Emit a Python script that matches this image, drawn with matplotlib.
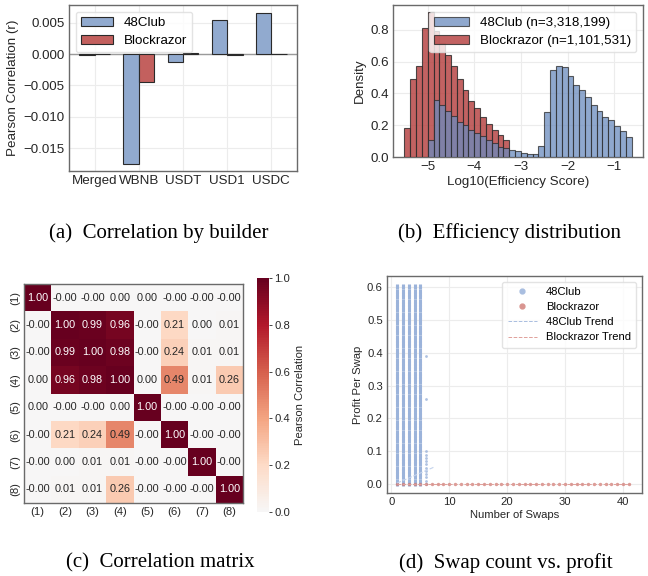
import numpy as np
import matplotlib
matplotlib.use("Agg")
import matplotlib.pyplot as plt
from matplotlib.colors import LinearSegmentedColormap
from matplotlib.lines import Line2D

plt.rcParams['font.family'] = ['Liberation Sans', 'DejaVu Sans']
plt.rcParams['axes.unicode_minus'] = True

# ---------------- data ----------------
# (a) correlation by builder
tokens = ["Merged", "WBNB", "USDT", "USD1", "USDC"]
corr_48club = [-0.0001, -0.0175, -0.0012, 0.0054, 0.0066]
corr_blockrazor = [-0.00003, -0.0045, 0.0001, -0.0001, 0.00002]

# (b) efficiency distribution (density histograms, bin width 0.125)
razor_bin_start = -5.5
razor_density = [0.18, 0.49, 0.57, 0.81, 0.91, 0.79, 0.72, 0.64, 0.57, 0.49,
                 0.42, 0.355, 0.31, 0.25, 0.21, 0.17, 0.14, 0.107]
club_bin_start = -5.0
club_density = [0.107, 0.36, 0.33, 0.29, 0.255, 0.22, 0.20, 0.17, 0.15, 0.13,
                0.107, 0.086, 0.065, 0.055, 0.046, 0.036, 0.027, 0.021, 0.017, 0.07,
                0.28, 0.55, 0.57, 0.565, 0.51, 0.45, 0.42, 0.375, 0.33, 0.29,
                0.254, 0.23, 0.195, 0.164, 0.124]
bin_width = 0.125
club_label = "48Club (n=3,318,199)"
razor_label = "Blockrazor (n=1,101,531)"

# (c) correlation matrix
mat_labels = ["(1)", "(2)", "(3)", "(4)", "(5)", "(6)", "(7)", "(8)"]
corr_matrix = [
    [1.00, -0.001, -0.001, 0.001, 0.001, -0.001, -0.001, -0.001],
    [-0.001, 1.00, 0.99, 0.96, -0.001, 0.21, 0.001, 0.01],
    [-0.001, 0.99, 1.00, 0.98, -0.001, 0.24, 0.01, 0.01],
    [0.001, 0.96, 0.98, 1.00, 0.001, 0.49, 0.01, 0.26],
    [0.001, -0.001, -0.001, 0.001, 1.00, -0.001, -0.001, -0.001],
    [-0.001, 0.21, 0.24, 0.49, -0.001, 1.00, -0.001, -0.001],
    [-0.001, 0.001, 0.01, 0.01, -0.001, -0.001, 1.00, -0.001],
    [-0.001, 0.01, 0.01, 0.26, -0.001, -0.001, -0.001, 1.00],
]

# (d) swap count vs profit
club_swaps_dense = [1, 2, 3, 4, 5]
club_profit_levels = [0.00, 0.01, 0.02, 0.03, 0.04, 0.05, 0.06, 0.07, 0.08, 0.09,
                      0.10, 0.11, 0.12, 0.13, 0.14, 0.15, 0.16, 0.17, 0.18, 0.19,
                      0.20, 0.21, 0.22, 0.23, 0.24, 0.25, 0.26, 0.27, 0.28, 0.29,
                      0.30, 0.31, 0.32, 0.33, 0.34, 0.35, 0.36, 0.37, 0.38, 0.39,
                      0.40, 0.41, 0.42, 0.43, 0.44, 0.45, 0.46, 0.47, 0.48, 0.49,
                      0.50, 0.51, 0.52, 0.53, 0.54, 0.55, 0.56, 0.57, 0.58, 0.59,
                      0.60, 0.605]
club_swaps_sparse = 6
club_profit_sparse = [0.39, 0.26, 0.10, 0.09, 0.08, 0.07, 0.06, 0.05,
                      0.04, 0.03, 0.02, 0.01, 0.0]
razor_swaps = list(range(1, 42))
razor_profit_value = 0.0005
club_trend_x = [1.0, 7.3]
club_trend_y = [0.003, 0.051]
razor_trend_x = [1.0, 41.0]
razor_trend_y = [0.0004, 0.0004]

# ---------------- style ----------------
BLUE = "#91AACF"
RED = "#C3605E"
EDGE = "#2a2a2a"
SPINE = "#6a6a6a"
GRID = "#ececec"
TXT = "#262626"


def style_axes(ax, fs):
    for s in ax.spines.values():
        s.set_color(SPINE)
        s.set_linewidth(1.0)
    ax.grid(True, color=GRID, linewidth=0.8)
    ax.set_axisbelow(True)
    ax.tick_params(length=0, labelsize=fs, colors=TXT, pad=3)


FS_AB = 9.6
FS_CD = 8.1

fig = plt.figure(figsize=(6.48, 5.76), dpi=100)

# ---------------- (a) ----------------
axa = fig.add_axes([69/648, 1-171/576, 228/648, 166/576])
style_axes(axa, FS_AB)
x = np.arange(len(tokens))
w = 0.35
axa.bar(x - w/2, corr_48club, w, color=BLUE, edgecolor=EDGE, linewidth=0.8, label="48Club", zorder=3)
axa.bar(x + w/2, corr_blockrazor, w, color=RED, edgecolor=EDGE, linewidth=0.8, label="Blockrazor", zorder=3)
axa.axhline(0, color="#9a9a9a", linewidth=1.0, zorder=2)
axa.set_xticks(x)
axa.set_xticklabels(tokens)
axa.set_xlim(-0.58, 4.58)
axa.set_ylim(-0.01867, 0.00784)
axa.set_yticks([-0.015, -0.010, -0.005, 0.0, 0.005])
axa.set_yticklabels(["\u22120.015", "\u22120.010", "\u22120.005", "0.000", "0.005"])
axa.set_ylabel("Pearson Correlation (r)", fontsize=FS_AB, color=TXT, labelpad=3)
axa.legend(loc="upper left", fontsize=FS_AB, frameon=True, edgecolor="#dddddd",
           handlelength=2.4, borderpad=0.4, labelspacing=0.4)

# ---------------- (b) ----------------
axb = fig.add_axes([393/648, 1-157/576, 250/648, 152/576])
style_axes(axb, FS_AB)
razor_edges = razor_bin_start + bin_width * np.arange(len(razor_density) + 1)
club_edges = club_bin_start + bin_width * np.arange(len(club_density) + 1)
axb.hist(razor_edges[:-1] + bin_width/2, bins=razor_edges, weights=razor_density,
         color="#B5403F", alpha=0.82, edgecolor=EDGE, linewidth=0.8, label=razor_label, zorder=3)
axb.hist(club_edges[:-1] + bin_width/2, bins=club_edges, weights=club_density,
         color="#6A8BBE", alpha=0.75, edgecolor=EDGE, linewidth=0.8, label=club_label, zorder=4)
axb.set_xlim(-5.744, -0.381)
axb.set_ylim(0, 0.956)
axb.set_xticks([-5, -4, -3, -2, -1])
axb.set_xticklabels(["\u22125", "\u22124", "\u22123", "\u22122", "\u22121"])
axb.set_yticks([0.0, 0.2, 0.4, 0.6, 0.8])
axb.set_xlabel("Log10(Efficiency Score)", fontsize=FS_AB, color=TXT, labelpad=2)
axb.set_ylabel("Density", fontsize=FS_AB, color=TXT, labelpad=3)
h, l = axb.get_legend_handles_labels()
axb.legend(h[::-1], l[::-1], loc="upper right", fontsize=FS_AB, frameon=True, edgecolor="#dddddd",
           handlelength=2.6, borderpad=0.4, labelspacing=0.4)

# ---------------- (c) ----------------
axc = fig.add_axes([24/648, 1-503/576, 219/648, 219/576])
base = plt.get_cmap("RdBu_r")
cmap = LinearSegmentedColormap.from_list("half_rdbu", base(np.linspace(0.5, 1.0, 256)))
M = np.array(corr_matrix)
n = M.shape[0]
mesh = axc.pcolormesh(np.arange(n + 1), np.arange(n + 1), M, cmap=cmap, vmin=0, vmax=1)
axc.set_xlim(0, n)
axc.set_ylim(n, 0)
for i in range(n):
    for j in range(n):
        v = M[i, j]
        rgba = cmap(min(max(v, 0), 1))
        lum = 0.2126 * rgba[0] + 0.7152 * rgba[1] + 0.0722 * rgba[2]
        axc.text(j + 0.5, i + 0.5, f"{v:.2f}", ha="center", va="center",
                 fontsize=7.8, color="white" if lum < 0.5 else TXT)
axc.set_xticks(np.arange(n) + 0.5)
axc.set_xticklabels(mat_labels)
axc.set_yticks(np.arange(n) + 0.5)
axc.set_yticklabels(mat_labels, rotation=90, va="center")
for s in axc.spines.values():
    s.set_color(SPINE)
    s.set_linewidth(1.0)
axc.tick_params(length=0, labelsize=FS_CD, colors=TXT, pad=3)
cax = fig.add_axes([257/648, 1-512/576, 12/648, 234/576])
cb = fig.colorbar(mesh, cax=cax)
cb.outline.set_visible(False)
cb.set_ticks([0.0, 0.2, 0.4, 0.6, 0.8, 1.0])
cb.ax.tick_params(labelsize=FS_CD, colors=TXT, length=2.5, width=0.6, pad=1.5)
cb.set_label("Pearson Correlation", fontsize=FS_CD, color=TXT, labelpad=3)

# ---------------- (d) ----------------
axd = fig.add_axes([387/648, 1-493/576, 255/648, 217/576])
style_axes(axd, FS_CD)
cx = np.repeat(club_swaps_dense, len(club_profit_levels))
cy = np.tile(club_profit_levels, len(club_swaps_dense))
axd.scatter(cx, cy, s=9, marker="|", color="#9BB3DA", linewidths=2.2, zorder=3, label="48Club")
axd.scatter(np.full(len(club_profit_sparse), club_swaps_sparse), club_profit_sparse,
            s=4, color="#9BB3DA", alpha=0.8, linewidths=0, zorder=3)
axd.scatter(razor_swaps, np.full(len(razor_swaps), razor_profit_value), s=6, color="#D07A74",
            alpha=0.75, linewidths=0, zorder=4, label="Blockrazor")
axd.plot(club_trend_x, club_trend_y, linestyle="--", color="#C3D2EC", linewidth=0.8, zorder=5,
         label="48Club Trend")
axd.plot(razor_trend_x, razor_trend_y, linestyle="--", color="#E0A09A", linewidth=0.7, zorder=5,
         label="Blockrazor Trend")
axd.set_xlim(-0.76, 43.3)
axd.set_ylim(-0.0275, 0.635)
axd.set_xticks([0, 10, 20, 30, 40])
axd.set_yticks([0.0, 0.1, 0.2, 0.3, 0.4, 0.5, 0.6])
axd.set_xlabel("Number of Swaps", fontsize=FS_CD, color=TXT, labelpad=2)
axd.set_ylabel("Profit Per Swap", fontsize=FS_CD, color=TXT, labelpad=3)
handles = [
    Line2D([], [], marker="o", linestyle="", color="#A9BEE0", markersize=3.5),
    Line2D([], [], marker="o", linestyle="", color="#D99590", markersize=3.5),
    Line2D([], [], linestyle="--", color="#A9BEE0", linewidth=0.7),
    Line2D([], [], linestyle="--", color="#E0A09A", linewidth=0.7),
]
axd.legend(handles, ["48Club", "Blockrazor", "48Club Trend", "Blockrazor Trend"],
           loc="upper right", fontsize=FS_CD, frameon=True, edgecolor="#dddddd",
           handlelength=2.6, borderpad=0.5, labelspacing=0.45)

# ---------------- captions ----------------
cap_kw = dict(fontsize=15, family=["Liberation Serif", "DejaVu Serif"], color="black",
              ha="center", va="center")
fig.text(159/648, 1-233/576, "(a)  Correlation by builder", **cap_kw)
fig.text(509/648, 1-233/576, "(b)  Efficiency distribution", **cap_kw)
fig.text(160/648, 1-563/576, "(c)  Correlation matrix", **cap_kw)
fig.text(506/648, 1-563/576, "(d)  Swap count vs. profit", **cap_kw)

fig.savefig("out.png", dpi=100)
